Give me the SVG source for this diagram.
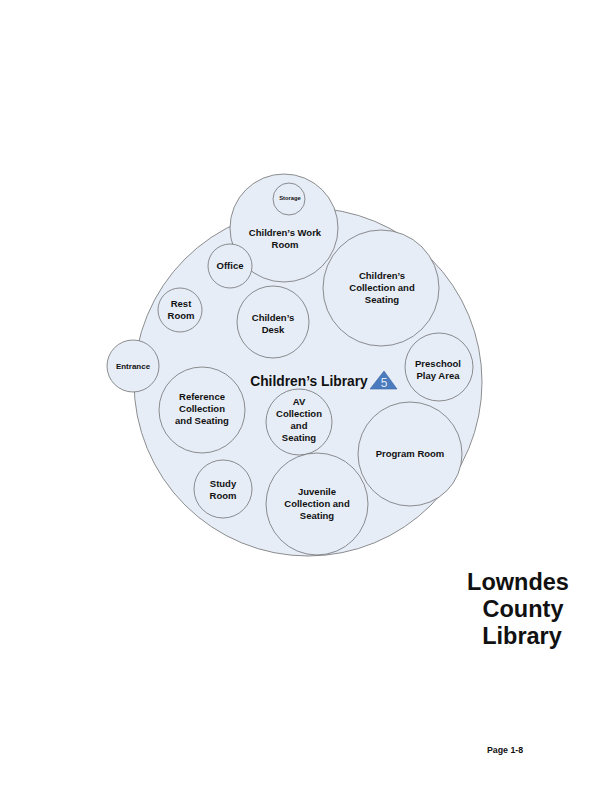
<svg xmlns="http://www.w3.org/2000/svg" width="612" height="792" viewBox="0 0 612 792">
<style>
.c{fill:#e7edf7;stroke:#6a6a6a;stroke-width:0.75}
.t{font-family:"Liberation Sans",Arial,sans-serif;font-weight:bold;font-size:9.5px;fill:#111;text-anchor:middle}
.big{font-family:"Liberation Sans",Arial,sans-serif;font-weight:bold;fill:#111;text-anchor:middle}
</style>
<rect width="612" height="792" fill="#fff"/>
<g id="main">
<circle class="c" cx="308" cy="382" r="174"/>
<text class="big" x="309" y="386" style="font-size:13.8px">Children’s Library</text>
<polygon points="384,371 370,389 397,389" fill="#4a7bbf" stroke="#3a66a3" stroke-width="0.6"/>
<text x="384" y="387" font-family="'Liberation Sans',Arial,sans-serif" font-size="12" fill="#dfe8f5" text-anchor="middle">5</text>
</g>
<g id="workroom">
<circle class="c" cx="284" cy="228" r="54"/>
<text class="t" x="285" y="236">Children’s Work</text>
<text class="t" x="285" y="248">Room</text>
</g>
<g id="storage">
<circle class="c" cx="289" cy="199" r="16"/>
<text class="t" x="290" y="200" style="font-size:5.8px">Storage</text>
</g>
<g id="collection">
<circle class="c" cx="381" cy="288" r="58"/>
<text class="t" x="382" y="279">Children’s</text>
<text class="t" x="382" y="291">Collection and</text>
<text class="t" x="382" y="303">Seating</text>
</g>
<g id="office">
<circle class="c" cx="230" cy="266" r="22"/>
<text class="t" x="230" y="269">Office</text>
</g>
<g id="restroom">
<circle class="c" cx="180" cy="310" r="22"/>
<text class="t" x="181" y="307">Rest</text>
<text class="t" x="181" y="319">Room</text>
</g>
<g id="desk">
<circle class="c" cx="273" cy="322" r="36"/>
<text class="t" x="273" y="321">Childen’s</text>
<text class="t" x="273" y="333">Desk</text>
</g>
<g id="entrance">
<circle class="c" cx="133" cy="366" r="26"/>
<text class="t" x="133" y="369" style="font-size:8px">Entrance</text>
</g>
<g id="reference">
<circle class="c" cx="202" cy="410" r="43"/>
<text class="t" x="202" y="400">Reference</text>
<text class="t" x="202" y="412">Collection</text>
<text class="t" x="202" y="424">and Seating</text>
</g>
<g id="study">
<circle class="c" cx="223" cy="489" r="29"/>
<text class="t" x="223" y="487">Study</text>
<text class="t" x="223" y="499">Room</text>
</g>
<g id="av">
<circle class="c" cx="299" cy="422" r="33"/>
<text class="t" x="299" y="405">AV</text>
<text class="t" x="299" y="417">Collection</text>
<text class="t" x="299" y="429">and</text>
<text class="t" x="299" y="441">Seating</text>
</g>
<g id="juvenile">
<circle class="c" cx="317" cy="504" r="51"/>
<text class="t" x="317" y="495">Juvenile</text>
<text class="t" x="317" y="507">Collection and</text>
<text class="t" x="317" y="519">Seating</text>
</g>
<g id="program">
<circle class="c" cx="410" cy="454" r="52"/>
<text class="t" x="410" y="457">Program Room</text>
</g>
<g id="preschool">
<circle class="c" cx="439" cy="367" r="34"/>
<text class="t" x="438" y="367">Preschool</text>
<text class="t" x="438" y="379">Play Area</text>
</g>
<g id="connectors"></g>
<g id="title">
<text class="big" x="518" y="590" style="font-size:23.5px">Lowndes</text>
<text class="big" x="523" y="617" style="font-size:23.5px">County</text>
<text class="big" x="522" y="644" style="font-size:23.5px">Library</text>
</g>
<text class="big" x="505" y="753" style="font-size:8.8px">Page 1-8</text>
</svg>
